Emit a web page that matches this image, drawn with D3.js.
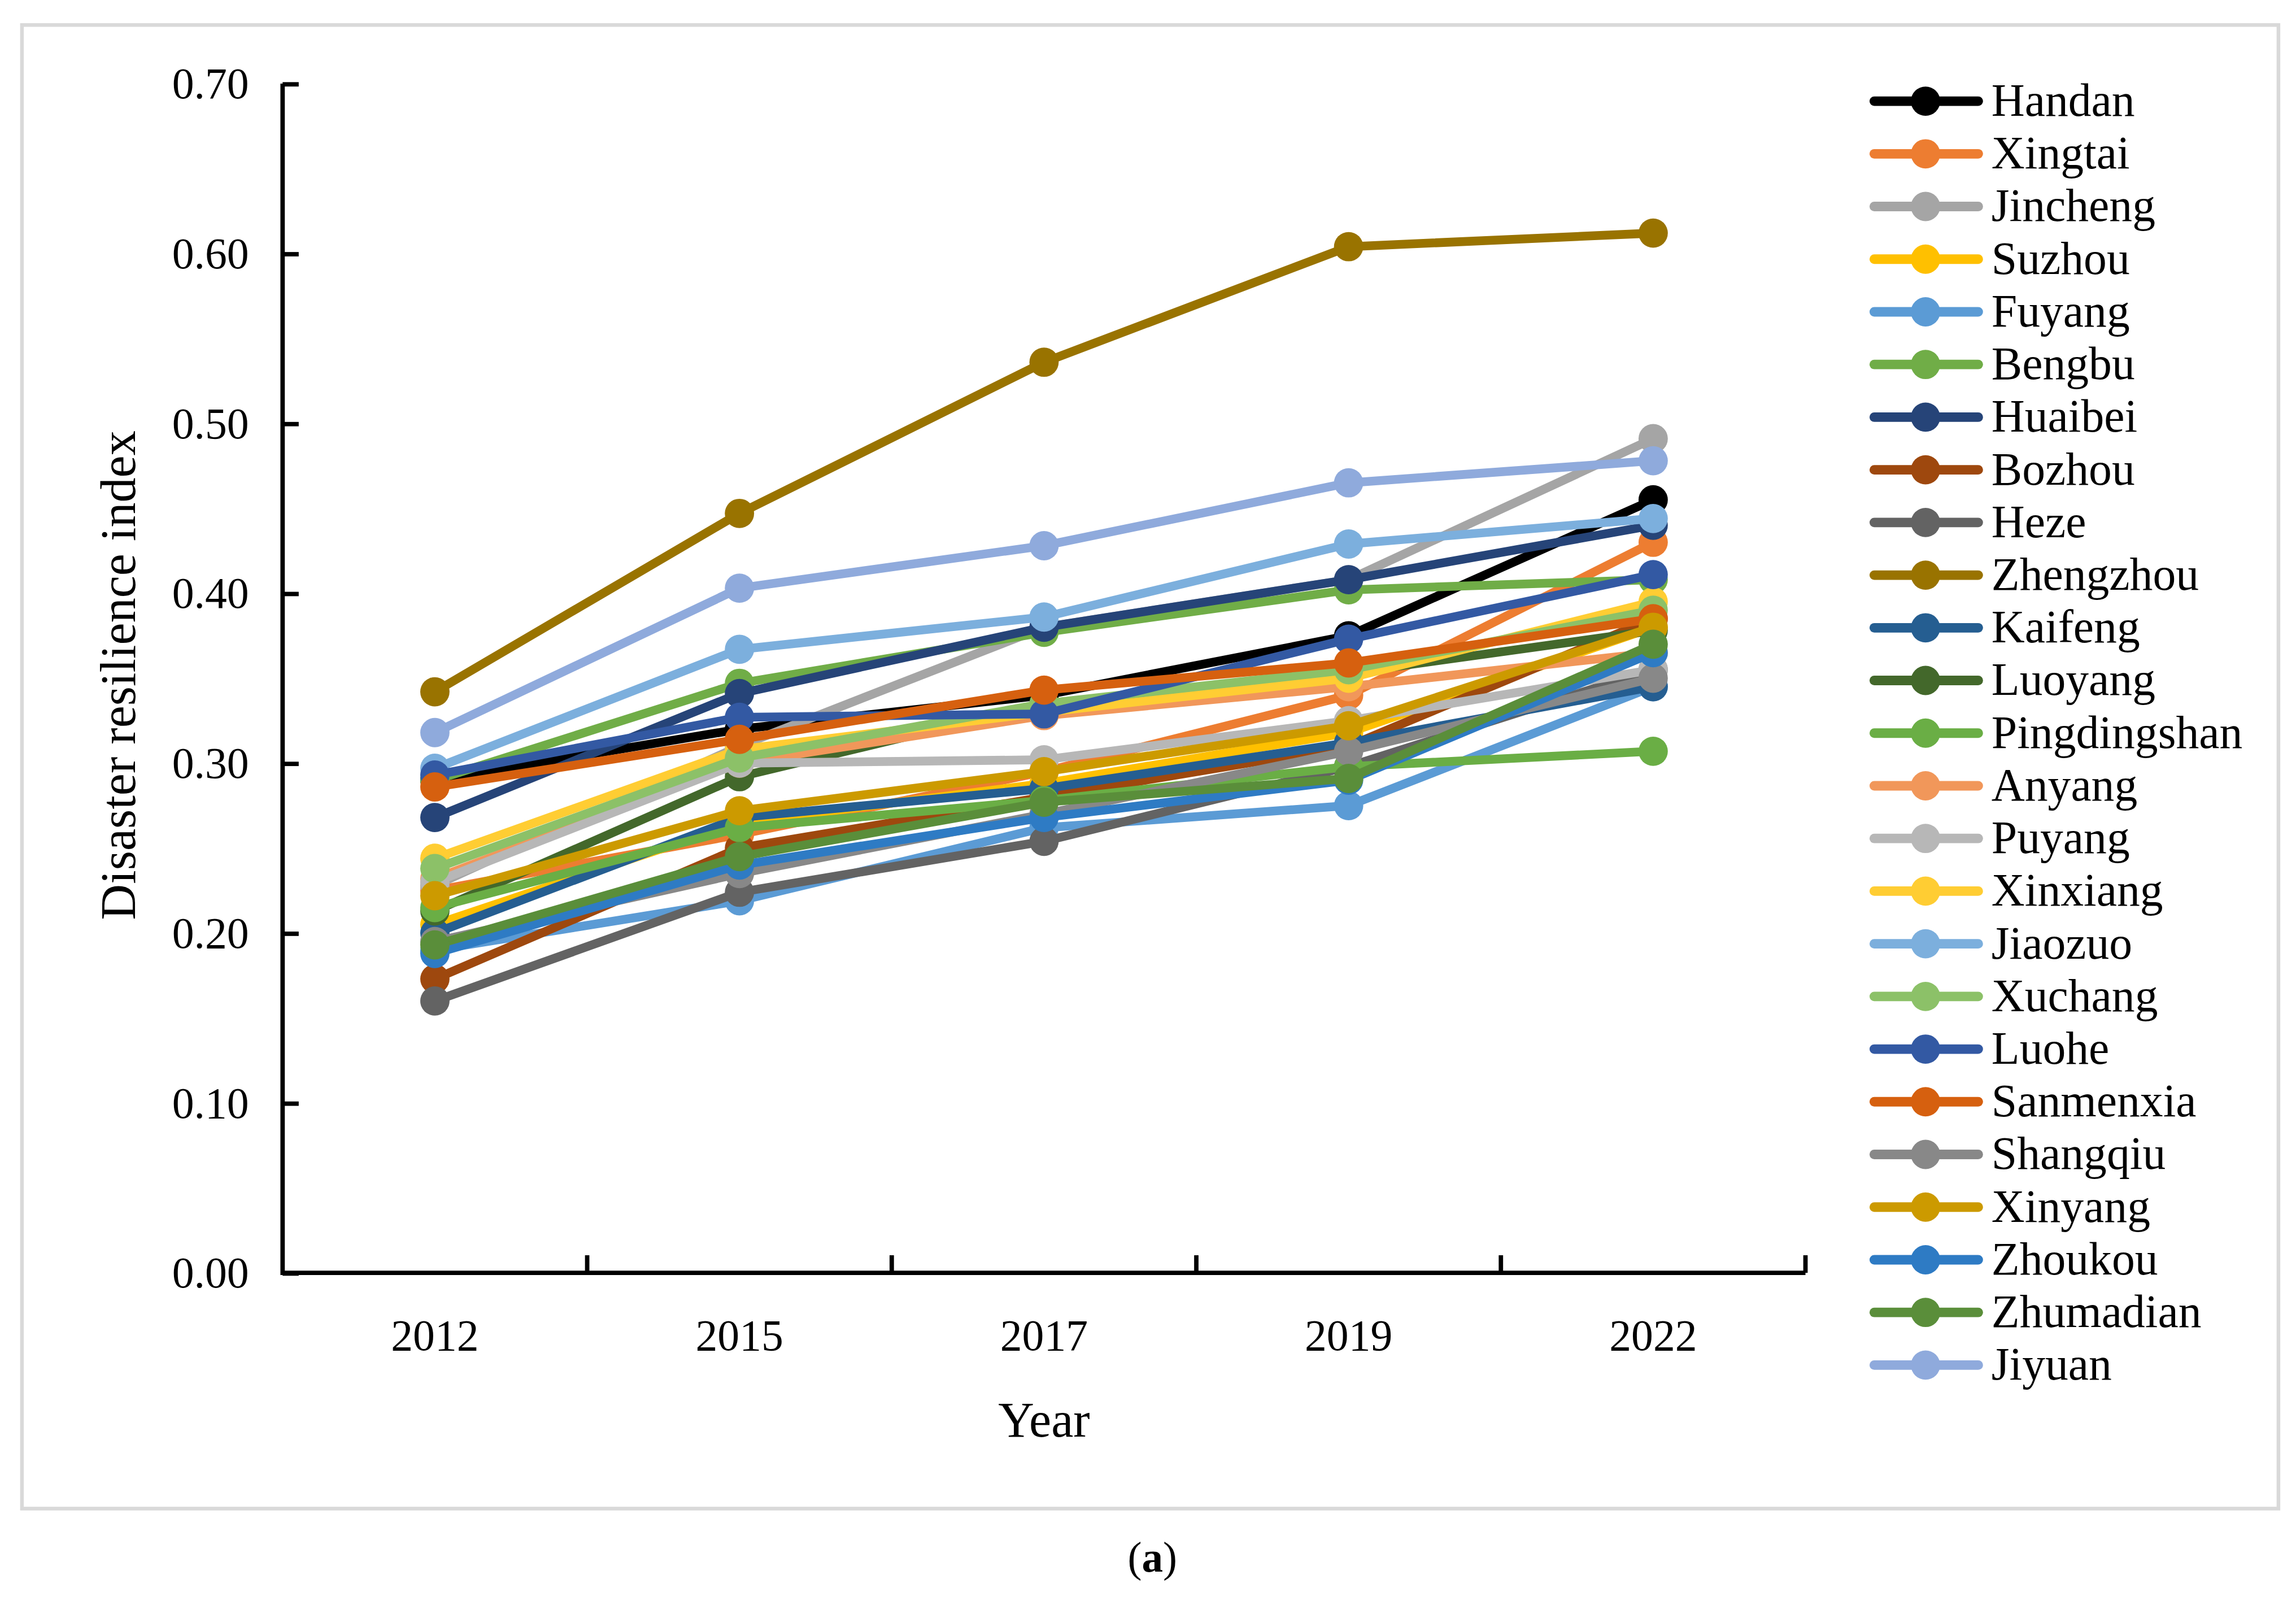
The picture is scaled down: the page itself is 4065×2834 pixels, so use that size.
<!DOCTYPE html>
<html>
<head>
<meta charset="utf-8">
<script src="https://cdn.jsdelivr.net/npm/d3@7"></script>
<style>
  html, body { margin: 0; padding: 0; background: #fff; }
  svg { display: block; }
  text { font-family: "Times New Roman", "Liberation Serif", serif; fill: #000; }
</style>
</head>
<body>
<svg id="chart"></svg>
<script>
// Data
var years = ["2012", "2015", "2017", "2019", "2022"];
var yTicks = [0, 0.1, 0.2, 0.3, 0.4, 0.5, 0.6, 0.7];

var cities = ["Handan", "Xingtai", "Jincheng", "Suzhou", "Fuyang", "Bengbu", "Huaibei", "Bozhou",
  "Heze", "Zhengzhou", "Kaifeng", "Luoyang", "Pingdingshan", "Anyang", "Puyang", "Xinxiang",
  "Jiaozuo", "Xuchang", "Luohe", "Sanmenxia", "Shangqiu", "Xinyang", "Zhoukou", "Zhumadian", "Jiyuan"];

var colors = ["#000000", "#ED7D31", "#A5A5A5", "#FFC000", "#5B9BD5", "#70AD47", "#264478", "#9E480E",
  "#636363", "#997300", "#255E91", "#43682B", "#6AAE45", "#F1975A", "#B7B7B7", "#FFCD33",
  "#7CAFDD", "#8CC168", "#3359A3", "#D6600F", "#888888", "#CC9A00", "#2E7BC4", "#5A8E3A", "#8FAADC"];

var Handan       = [0.290, 0.320, 0.340, 0.375, 0.455];
var Xingtai      = [0.225, 0.258, 0.295, 0.340, 0.430];
var Jincheng     = [0.228, 0.310, 0.380, 0.408, 0.491];
var Suzhou       = [0.205, 0.265, 0.288, 0.318, 0.380];
var Fuyang       = [0.190, 0.219, 0.262, 0.275, 0.345];
var Bengbu       = [0.290, 0.347, 0.377, 0.402, 0.408];
var Huaibei      = [0.268, 0.341, 0.380, 0.408, 0.440];
var Bozhou       = [0.173, 0.250, 0.280, 0.310, 0.385];
var Heze         = [0.160, 0.224, 0.254, 0.298, 0.355];
var Zhengzhou    = [0.342, 0.447, 0.536, 0.604, 0.612];
var Kaifeng      = [0.200, 0.268, 0.285, 0.312, 0.345];
var Luoyang      = [0.213, 0.292, 0.335, 0.353, 0.378];
var Pingdingshan = [0.215, 0.262, 0.278, 0.298, 0.307];
var Anyang       = [0.232, 0.300, 0.328, 0.345, 0.365];
var Puyang       = [0.230, 0.300, 0.302, 0.325, 0.355];
var Xinxiang     = [0.244, 0.308, 0.330, 0.350, 0.395];
var Jiaozuo      = [0.297, 0.367, 0.386, 0.429, 0.444];
var Xuchang      = [0.238, 0.303, 0.335, 0.355, 0.390];
var Luohe        = [0.293, 0.327, 0.329, 0.373, 0.411];
var Sanmenxia    = [0.286, 0.314, 0.343, 0.359, 0.385];
var Shangqiu     = [0.195, 0.235, 0.270, 0.307, 0.350];
var Xinyang      = [0.222, 0.272, 0.295, 0.322, 0.380];
var Zhoukou      = [0.188, 0.240, 0.268, 0.290, 0.365];
var Zhumadian    = [0.193, 0.245, 0.277, 0.291, 0.370];
var Jiyuan       = [0.318, 0.403, 0.428, 0.465, 0.478];

var values = [Handan, Xingtai, Jincheng, Suzhou, Fuyang, Bengbu, Huaibei, Bozhou, Heze, Zhengzhou,
  Kaifeng, Luoyang, Pingdingshan, Anyang, Puyang, Xinxiang, Jiaozuo, Xuchang, Luohe, Sanmenxia,
  Shangqiu, Xinyang, Zhoukou, Zhumadian, Jiyuan];

var series = cities.map(function(c, i) {
  return {name: c, color: colors[i], vals: values[i]};
});

// Layout works in a 1568 wide frame, scaled up to the window
var W = 1568, H = 1093;
var svg = d3.select("#chart")
  .attr("width", 4065)
  .attr("height", 2834)
  .attr("viewBox", "0 0 " + W + " " + H);

svg.append("rect")
  .attr("x", 15).attr("y", 17)
  .attr("width", 1541).attr("height", 1013)
  .attr("fill", "#fff")
  .attr("stroke", "#d9d9d9")
  .attr("stroke-width", 2.5);

var pL = 193, pR = 1233, pT = 57, pB = 869;

var x = d3.scaleBand().domain(years).range([pL, pR]);
var y = d3.scaleLinear().domain([0, 0.7]).range([pB, pT]);

// y axis, ticks inside
var yAxis = svg.append("g")
  .attr("transform", "translate(" + pL + ",0)")
  .call(d3.axisRight(y).tickValues(yTicks).tickSize(11).tickFormat(d3.format(".2f")));
yAxis.select(".domain").remove();
yAxis.selectAll(".tick line").attr("stroke", "#000").attr("stroke-width", 3);
yAxis.selectAll(".tick text")
  .attr("x", -23)
  .attr("text-anchor", "end")
  .style("font-size", "30px")
  .style("font-family", "'Times New Roman','Liberation Serif',serif");

// x axis, ticks between categories pointing up
var xg = svg.append("g");
var bounds = years.map(function(d) { return x(d); }).concat([pR]).slice(1);
xg.selectAll("line.xt")
  .data(bounds).enter()
  .append("line")
  .attr("x1", function(d) { return d; })
  .attr("x2", function(d) { return d; })
  .attr("y1", pB)
  .attr("y2", pB - 12)
  .attr("stroke", "#000").attr("stroke-width", 3);
xg.selectAll("text")
  .data(years).enter()
  .append("text")
  .attr("x", function(d) { return x(d) + x.bandwidth() / 2; })
  .attr("y", 922)
  .attr("text-anchor", "middle")
  .style("font-size", "30px")
  .text(function(d) { return d; });

svg.append("path")
  .attr("d", "M" + pL + "," + pT + "V" + pB + "H" + pR)
  .attr("fill", "none")
  .attr("stroke", "#000")
  .attr("stroke-width", 3)
  .attr("stroke-linejoin", "miter");

// titles
svg.append("text")
  .attr("transform", "translate(92,461) rotate(-90)")
  .attr("text-anchor", "middle")
  .style("font-size", "34px")
  .text("Disaster resilience index");

svg.append("text")
  .attr("x", 713).attr("y", 981)
  .attr("text-anchor", "middle")
  .style("font-size", "34px")
  .text("Year");

var cap = svg.append("text")
  .attr("x", 787).attr("y", 1073)
  .attr("text-anchor", "middle")
  .style("font-size", "29px");
cap.append("tspan").text("(");
cap.append("tspan").style("font-weight", "bold").text("a");
cap.append("tspan").text(")");

// series
var line = d3.line()
  .x(function(d, i) { return x(years[i]) + x.bandwidth() / 2; })
  .y(function(d) { return y(d); });

var g = svg.selectAll("g.series")
  .data(series).enter()
  .append("g")
  .attr("class", "series");

g.append("path")
  .attr("d", function(d) { return line(d.vals); })
  .attr("fill", "none")
  .attr("stroke", function(d) { return d.color; })
  .attr("stroke-width", 6)
  .attr("stroke-linejoin", "round")
  .attr("stroke-linecap", "round");

g.selectAll("circle")
  .data(function(d) { return d.vals.map(function(v, i) { return {v: v, i: i, c: d.color}; }); })
  .enter()
  .append("circle")
  .attr("cx", function(d) { return x(years[d.i]) + x.bandwidth() / 2; })
  .attr("cy", function(d) { return y(d.v); })
  .attr("r", 10)
  .attr("fill", function(d) { return d.c; });

// legend
var lg = svg.append("g");
var rowY = d3.scalePoint().domain(cities).range([69, 932]);
var item = lg.selectAll("g")
  .data(series).enter()
  .append("g")
  .attr("transform", function(d) { return "translate(0," + rowY(d.name) + ")"; });
item.append("line")
  .attr("x1", 1280).attr("x2", 1351)
  .attr("y1", 0).attr("y2", 0)
  .attr("stroke", function(d) { return d.color; })
  .attr("stroke-width", 6.5)
  .attr("stroke-linecap", "round");
item.append("circle")
  .attr("cx", 1315).attr("cy", 0).attr("r", 10)
  .attr("fill", function(d) { return d.color; });
item.append("text")
  .attr("x", 1360).attr("y", 10)
  .style("font-size", "31.5px")
  .text(function(d) { return d.name; });
</script>
</body>
</html>
